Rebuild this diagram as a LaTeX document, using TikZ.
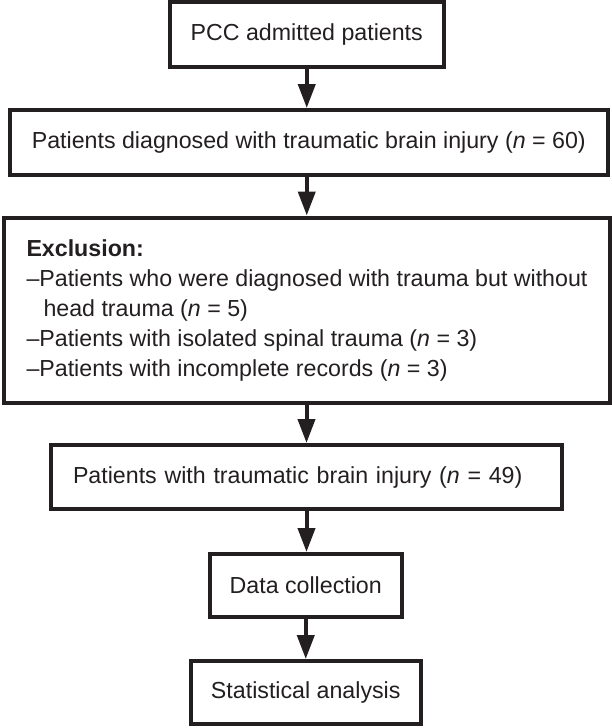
\documentclass[tikz,border=0pt]{standalone}
\usepackage{fontspec}
\setmainfont{Liberation Sans}
\usetikzlibrary{arrows.meta}
\definecolor{ink}{HTML}{231F20}

\begin{document}
\begin{tikzpicture}[x=1pt,y=-1pt,
        box/.style={draw=ink,text=ink,line width=4pt,minimum height=65pt,inner sep=0pt},
        arr/.style={draw=ink,fill=ink,line width=4pt,-{Triangle[length=24pt,width=17pt]}}]
    \fontsize{23.2}{30}\selectfont
    \useasboundingbox (0,0) rectangle (612,728);

    \node[box,minimum width=274.5pt] (admit) at (306.75,34.5) {PCC admitted patients};
    \node[box,minimum width=598.5pt] (tbi) at (308.75,142.5) {Patients diagnosed with traumatic brain injury (\textit{n} = 60)};
    \node[box,minimum width=606pt,minimum height=185pt,align=left] (excl) at (307,310)
        {\textbf{Exclusion:}\\
         –Patients who were diagnosed with trauma but without\\
         \hspace*{17pt}head trauma (\textit{n} = 5)\\
         –Patients with isolated spinal trauma (\textit{n} = 3)\\
         –Patients with incomplete records (\textit{n} = 3)};
    \node[box,minimum width=511pt,minimum height=64pt,text width=467pt,inner xsep=22pt,align=left] (final) at (306.5,477) {Patients with traumatic brain injury (\textit{n} = 49)};
    \node[box,minimum width=192.5pt,minimum height=63pt] (data) at (305.75,585.5) {Data collection};
    \node[box,minimum width=230.5pt,minimum height=63pt] (stats) at (305.75,692.5) {Statistical analysis};

    \draw[arr] (admit.south) -- (admit.south |- tbi.north);
    \draw[arr] (admit.south |- tbi.south) -- (admit.south |- excl.north);
    \draw[arr] (final.north |- excl.south) -- (final.north);
    \draw[arr] (final.south) -- (final.south |- data.north);
    \draw[arr] (data.south) -- (data.south |- stats.north);
\end{tikzpicture}
\end{document}
